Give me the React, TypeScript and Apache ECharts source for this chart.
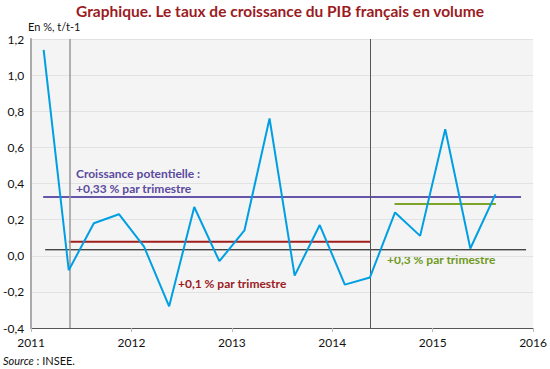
import React, { useEffect, useRef } from "react";
import * as echarts from "echarts";

const quarters = [
  "2011T1","2011T2","2011T3","2011T4",
  "2012T1","2012T2","2012T3","2012T4",
  "2013T1","2013T2","2013T3","2013T4",
  "2014T1","2014T2","2014T3","2014T4",
  "2015T1","2015T2","2015T3",
];
const growth = [1.14, -0.08, 0.18, 0.23, 0.05, -0.28, 0.27, -0.03, 0.14, 0.76, -0.11, 0.17, -0.16, -0.12, 0.24, 0.11, 0.70, 0.04, 0.34];

const yTicks = ["-0,4", "-0,2", "0,0", "0,2", "0,4", "0,6", "0,8", "1,0", "1,2"];
const xTicks = ["2011", "2012", "2013", "2014", "2015", "2016"];

// horizontal reference segments: [xStart, xEnd, value]
const potentialSeg = [2011.12, 2015.88, 0.325];
const redSeg = [2011.376, 2014.376, 0.078];
const greenSeg = [2014.62, 2015.63, 0.287];
const zeroSeg = [2011.14, 2015.93, 0.033];
const breaks = [2011.375, 2014.375];

const qx = (q: string) => Number(q.slice(0, 4)) + (Number(q.slice(5)) - 0.5) / 4;

export default function App() {
  const ref = useRef<HTMLDivElement>(null);
  useEffect(() => {
    const chart = echarts.init(ref.current!, null, { renderer: "svg" });
    const font = "Lato";
    const seg = (s: number[], color: string, width: number, name: string) => ({
      type: "line",
      name,
      data: [[s[0], s[2]], [s[1], s[2]]],
      symbol: "none",
      lineStyle: { color, width },
      z: 3,
    });
    chart.setOption({
      animation: false,
      textStyle: { fontFamily: font },
      title: {
        text: "Graphique. Le taux de croissance du PIB français en volume",
        left: 76,
        top: 3,
        padding: 0,
        textStyle: { color: "#9b1b1f", fontSize: 15.5, fontWeight: "bold", fontFamily: font },
      },
      grid: { left: 29, right: 15, top: 39, bottom: 41, show: true, backgroundColor: "#f4f4f4", borderWidth: 0 },
      xAxis: {
        type: "value",
        min: 2011,
        max: 2016,
        interval: 1,
        axisLine: { show: true, onZero: false, lineStyle: { color: "#555", width: 1 } },
        axisTick: { show: true, length: 4, lineStyle: { color: "#bbb" } },
        splitLine: { show: false },
        axisLabel: {
          color: "#111",
          fontSize: 12,
          margin: 8,
          formatter: (v: number) => xTicks[Math.round(v - 2011)] ?? "",
        },
      },
      yAxis: {
        type: "value",
        min: -0.4,
        max: 1.2,
        interval: 0.2,
        axisLine: { show: true, lineStyle: { color: "#aaa", width: 2 } },
        axisTick: { show: false },
        splitLine: { show: true, lineStyle: { color: "#e2e2e2", width: 1 } },
        axisLabel: {
          color: "#111",
          fontSize: 12,
          margin: 7,
          formatter: (v: number) => yTicks[Math.round((v + 0.4) / 0.2)] ?? "",
        },
      },
      series: [
        {
          type: "line",
          name: "breaks",
          data: [],
          markLine: {
            symbol: "none",
            silent: true,
            label: { show: false },
            data: [
              { xAxis: breaks[0], lineStyle: { color: "#999", width: 1.5, type: "solid" } },
              { xAxis: breaks[1], lineStyle: { color: "#555", width: 1, type: "solid" } },
            ],
          },
          z: 1,
        },
        seg(zeroSeg, "#000", 1, "zero"),
        seg(redSeg, "#a01e1e", 2, "red"),
        seg(potentialSeg, "#6655a8", 2, "potential"),
        seg(greenSeg, "#7ba428", 2, "green"),
        {
          type: "line",
          name: "PIB",
          data: quarters.map((q, i) => [qx(q), growth[i]]),
          symbol: "none",
          lineStyle: { color: "#009fe3", width: 2 },
          z: 5,
        },
      ],
      graphic: [
        { type: "text", left: 28, top: 21, style: { text: "En %, t/t-1", fontSize: 11, fill: "#111", fontFamily: font } },
        {
          type: "text",
          left: 76,
          top: 166,
          style: { text: "Croissance potentielle :\n+0,33 % par trimestre", fontSize: 12, lineHeight: 15, fontWeight: "bold", fill: "#5b4a9e", fontFamily: font },
        },
        { type: "text", left: 178, top: 277, style: { text: "+0,1 % par trimestre", fontSize: 12, fontWeight: "bold", fill: "#9b1b1f", fontFamily: font } },
        { type: "text", left: 387, top: 253, style: { text: "+0,3 % par trimestre", fontSize: 12, fontWeight: "bold", fill: "#6f9a1e", fontFamily: font } },
        {
          type: "text",
          left: 3,
          top: 355,
          style: {
            text: "{i|Source} : INSEE.",
            fontSize: 11,
            fill: "#111",
            fontFamily: font,
            rich: { i: { fontStyle: "italic", fontSize: 11, fontFamily: font } },
          },
        },
      ],
    });
    return () => chart.dispose();
  }, []);
  return <div ref={ref} style={{ width: 550, height: 369, position: "absolute", left: 0, top: 0 }} />;
}
